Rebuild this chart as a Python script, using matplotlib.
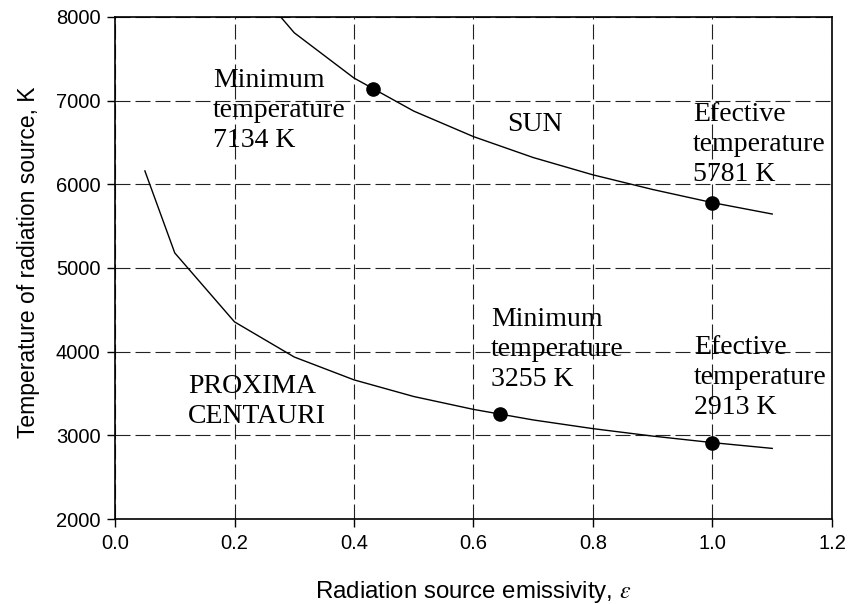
import matplotlib
matplotlib.use("Agg")
import matplotlib.pyplot as plt

# curve values
eps_sun = [0.2, 0.3, 0.4, 0.5, 0.6, 0.7, 0.8, 0.9, 1.0, 1.1]
T_sun = [8645, 7811, 7270, 6875, 6570, 6320, 6113, 5938, 5781, 5645]

eps_prox = [0.05, 0.1, 0.2, 0.3, 0.4, 0.5, 0.6, 0.7, 0.8, 0.9, 1.0, 1.1]
T_prox = [6160, 5180, 4356, 3936, 3663, 3464, 3310, 3184, 3080, 2991, 2913, 2844]

# marked points
pt_eps = [0.432, 1.0, 0.644, 1.0]
pt_T = [7134, 5781, 3255, 2913]

xticks = [0.0, 0.2, 0.4, 0.6, 0.8, 1.0, 1.2]
yticks = [2000, 3000, 4000, 5000, 6000, 7000, 8000]

plt.rcParams['mathtext.fontset'] = 'stix'
serif = 'Liberation Serif'
sans = 'Liberation Sans'

fig = plt.figure(figsize=(8.52, 6.04), dpi=100)
ax = fig.add_axes([0.135, 0.1407, 0.8415, 0.8312])

ax.plot(eps_sun, T_sun, color='black', lw=1.0, zorder=3)
ax.plot(eps_prox, T_prox, color='black', lw=1.0, zorder=3)
ax.plot(pt_eps, pt_T, 'o', color='black', ms=9.5, zorder=4, clip_on=False)

ax.set_xlim(0, 1.2)
ax.set_ylim(2000, 8000)
ax.set_xticks(xticks)
ax.set_yticks(yticks)
ax.set_xticklabels(['%.1f' % v for v in xticks], fontfamily=sans, fontsize=14.5)
ax.set_yticklabels([str(v) for v in yticks], fontfamily=sans, fontsize=14.5)
ax.tick_params(direction='out', length=5.5, width=1, color='black', pad=5)
for s in ax.spines.values():
    s.set_linewidth(1.2)

ax.grid(True, color='#222222', lw=0.8, linestyle=(0, (13.5, 4.5)), zorder=1)

ax.set_xlabel('Radiation source emissivity, $\\varepsilon$', fontfamily=sans, fontsize=17.3, labelpad=19)
ax.set_ylabel('Temperature of radiation source, K', fontfamily=sans, fontsize=16.5)
ax.yaxis.set_label_coords(-0.105, 0.512)

tk = dict(fontfamily=serif, fontsize=20, va='top', ha='left', linespacing=1.27)
ax.text(0.164, 7390, 'Minimum\ntemperature\n7134 K', **tk)
ax.text(0.656, 6865, 'SUN', **tk)
ax.text(0.967, 6984, 'Efective\ntemperature\n5781 K', **tk)
ax.text(0.122, 3733, 'PROXIMA\nCENTAURI', **tk)
ax.text(0.629, 4534, 'Minimum\ntemperature\n3255 K', **tk)
ax.text(0.969, 4199, 'Efective\ntemperature\n2913 K', **tk)

fig.savefig('out.png', dpi=100)
